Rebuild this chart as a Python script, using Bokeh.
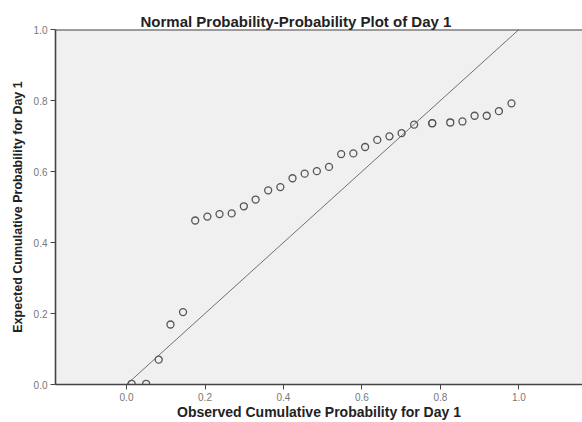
from bokeh.plotting import figure
from bokeh.models import Range1d, FixedTicker, Span, ColumnDataSource
from bokeh.embed import file_html
from bokeh.resources import INLINE

# Data
observed = [0.013, 0.050, 0.082, 0.112, 0.144, 0.175, 0.206, 0.237, 0.268, 0.299,
            0.329, 0.361, 0.392, 0.423, 0.454, 0.485, 0.516, 0.547, 0.578, 0.608,
            0.639, 0.670, 0.701, 0.733, 0.779, 0.779, 0.825, 0.856, 0.887, 0.918,
            0.949, 0.981]
expected = [0.002, 0.002, 0.070, 0.169, 0.204, 0.462, 0.473, 0.480, 0.482, 0.502,
            0.521, 0.547, 0.556, 0.581, 0.594, 0.601, 0.613, 0.649, 0.651, 0.669,
            0.689, 0.699, 0.708, 0.732, 0.736, 0.736, 0.738, 0.741, 0.757, 0.757,
            0.770, 0.792]
ref_x = [0.0, 1.0]
ref_y = [0.0, 1.0]
tick_values = [0.0, 0.2, 0.4, 0.6, 0.8, 1.0]
tick_labels = ["0.0", "0.2", "0.4", "0.6", "0.8", "1.0"]

FONT = "Liberation Sans"

p = figure(width=582, height=422, output_backend="svg", toolbar_location=None,
           x_range=Range1d(-0.181, 1.162), y_range=Range1d(0, 1),
           title="Normal Probability-Probability Plot of Day 1",
           min_border_left=55, min_border_top=29, min_border_right=0,
           min_border_bottom=38)

p.background_fill_color = "#f0f0f0"
p.border_fill_color = "white"
p.outline_line_color = None
p.xgrid.visible = False
p.ygrid.visible = False

p.title.text_font = FONT
p.title.text_font_size = "15px"
p.title.text_font_style = "bold"
p.title.text_color = "#222222"
p.title.align = "left"
p.title.offset = 85
p.title.standoff = 0

for ax in (p.xaxis[0], p.yaxis[0]):
    ax.ticker = FixedTicker(ticks=tick_values)
    ax.major_label_overrides = {v: l for v, l in zip(tick_values, tick_labels)}
    ax.minor_tick_line_color = None
    ax.major_tick_in = 0
    ax.major_tick_out = 5
    ax.major_tick_line_color = "#444444"
    ax.axis_line_color = "#444444"
    ax.axis_line_width = 1.6
    ax.major_label_text_font = FONT
    ax.major_label_text_font_size = "10px"
    ax.major_label_text_color = "#777777"
    ax.major_label_standoff = 3
    ax.axis_label_text_font = FONT
    ax.axis_label_text_font_style = "bold"
    ax.axis_label_text_color = "#222222"

p.xaxis.axis_label = "Observed Cumulative Probability for Day 1"
p.xaxis.axis_label_text_font_size = "14px"
p.xaxis.axis_label_standoff = 0
p.yaxis.axis_label = "Expected Cumulative Probability for Day 1"
p.yaxis.axis_label_text_font_size = "12.5px"
p.yaxis.axis_label_standoff = 6

top = Span(location=1.0, dimension="width", line_color="#444444", line_width=2)
p.add_layout(top)

p.line(ref_x, ref_y, line_color="#707070", line_width=1)

src = ColumnDataSource(data=dict(x=observed, y=expected))
p.scatter("x", "y", source=src, marker="circle", size=7, fill_color=None,
          line_color="#555555", line_width=1.3)

open("out.html", "w").write(file_html(p, INLINE))
